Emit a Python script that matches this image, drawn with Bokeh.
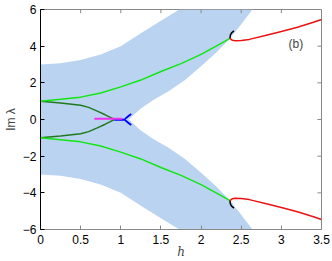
from bokeh.plotting import figure
from bokeh.models import FixedTicker, Range1d, Label
from bokeh.embed import file_html
from bokeh.resources import INLINE

# shaded stability band (closed polygon)
band_h = [0.0, 0.25, 0.5, 0.75, 1.0, 1.25, 1.5, 1.73,
          2.64, 2.5, 2.36, 2.2, 2.0, 1.8, 1.6, 1.4, 1.25, 1.1,
          1.25, 1.4, 1.6, 1.8, 2.0, 2.2, 2.36, 2.5, 2.64,
          1.73, 1.5, 1.25, 1.0, 0.75, 0.5, 0.25, 0.0]
band_y = [3.0, 3.07, 3.25, 3.55, 4.0, 4.7, 5.38, 6.0,
          6.0, 5.2, 4.42, 3.7, 2.9, 2.15, 1.55, 1.05, 0.6, 0.0,
          -0.6, -1.05, -1.55, -2.15, -2.9, -3.7, -4.42, -5.2, -6.0,
          -6.0, -5.38, -4.7, -4.0, -3.55, -3.25, -3.07, -3.0]

green_h = [0.0, 0.25, 0.5, 0.75, 1.0, 1.25, 1.5, 1.75, 2.0, 2.25, 2.36]
green_up = [1.0, 1.1, 1.22, 1.45, 1.78, 2.15, 2.62, 3.05, 3.55, 4.15, 4.42]
green_dn = [-1.0, -1.1, -1.22, -1.45, -1.78, -2.15, -2.62, -3.05, -3.55, -4.15, -4.42]

dkg_h = [0.0, 0.25, 0.5, 0.6, 0.7, 0.8, 0.87, 0.92]
dkg_up = [1.0, 0.9, 0.78, 0.66, 0.47, 0.27, 0.12, 0.0]
dkg_dn = [-1.0, -0.9, -0.78, -0.66, -0.47, -0.27, -0.12, 0.0]

mag_h = [0.67, 1.02]
mag_y = [0.04, 0.04]

blue_seg_h = [0.92, 1.05]
blue_seg_y = [-0.02, -0.02]
blue_h = [1.13, 1.1, 1.07, 1.05, 1.07, 1.1, 1.13]
blue_y = [0.3, 0.2, 0.1, 0.0, -0.1, -0.2, -0.3]

blk_h = [2.36, 2.365, 2.38, 2.41]
blk_up = [4.42, 4.6, 4.73, 4.83]
blk_dn = [-4.42, -4.6, -4.73, -4.83]

red_h = [2.36, 2.39, 2.43, 2.5, 2.6, 2.8, 3.0, 3.2, 3.4, 3.5]
red_up = [4.42, 4.32, 4.29, 4.31, 4.37, 4.58, 4.8, 5.03, 5.3, 5.45]
red_dn = [-4.42, -4.32, -4.29, -4.31, -4.37, -4.58, -4.8, -5.03, -5.3, -5.45]

x_ticks = [0, 0.5, 1, 1.5, 2, 2.5, 3, 3.5]
x_labels = ["0", "0.5", "1", "1.5", "2", "2.5", "3", "3.5"]
y_ticks = [-6, -4, -2, 0, 2, 4, 6]
y_labels = ["\u22126", "\u22124", "\u22122", "0", "2", "4", "6"]

FONT = "Liberation Sans"
X0, X1, Y0, Y1 = 0, 3.5, -6, 6

p = figure(width=332, height=261, output_backend="svg", toolbar_location=None,
           x_range=Range1d(X0, X1), y_range=Range1d(Y0, Y1),
           min_border_left=39, min_border_right=11, min_border_top=9, min_border_bottom=31)
p.grid.visible = False
p.outline_line_color = "#888888"
p.outline_line_width = 1
p.background_fill_color = "white"
p.border_fill_color = "white"

p.patch(band_h, band_y, fill_color="#bad3f1", line_color=None)

p.line(dkg_h, dkg_up, line_color="#1f7a1f", line_width=1.5)
p.line(dkg_h, dkg_dn, line_color="#1f7a1f", line_width=1.5)
p.line(green_h, green_up, line_color="#11e611", line_width=1.5)
p.line(green_h, green_dn, line_color="#11e611", line_width=1.5)
p.line(blue_seg_h, blue_seg_y, line_color="#0000ff", line_width=2)
p.line(mag_h, mag_y, line_color="#ee33ee", line_width=1.8)
p.line(blue_h, blue_y, line_color="#0000ff", line_width=1.8)
p.line(blk_h, blk_up, line_color="black", line_width=1.5)
p.line(blk_h, blk_dn, line_color="black", line_width=1.5)
p.line(red_h, red_up, line_color="#ee1111", line_width=1.5)
p.line(red_h, red_dn, line_color="#ee1111", line_width=1.5)

# mirrored inward ticks on the top and right edges, at the tick positions
tx = [t for t in x_ticks if X0 < t < X1]
ty = [t for t in y_ticks if Y0 < t < Y1]
p.segment(x0=tx, y0=[Y1] * len(tx), x1=tx, y1=[Y1 - 0.2] * len(tx),
          line_color="#888888", line_width=1)
p.segment(x0=[X1] * len(ty), y0=ty, x1=[X1 - 0.05] * len(ty), y1=ty,
          line_color="#888888", line_width=1)

p.add_layout(Label(x=3.18, y=4.1, text="(b)", text_font=FONT, text_font_size="12px",
                   text_align="center", text_baseline="middle"))

def style(ax, ticks, labels, color):
    ax.ticker = FixedTicker(ticks=ticks)
    ax.major_label_overrides = {t: l for t, l in zip(ticks, labels)}
    ax.minor_tick_line_color = None
    ax.major_tick_in = 4
    ax.major_tick_out = 0
    ax.axis_line_color = color
    ax.major_tick_line_color = color
    ax.major_label_text_font = FONT
    ax.major_label_text_font_size = "12px"
    ax.major_label_text_color = "black"

xa = p.xaxis[0]
ya = p.yaxis[0]
style(xa, x_ticks, x_labels, "#888888")
style(ya, y_ticks, y_labels, "black")
xa.major_label_standoff = 5
ya.major_label_standoff = 4
xa.axis_label = "h"
xa.axis_label_text_font = "DejaVu Serif"
xa.axis_label_text_font_style = "italic"
xa.axis_label_text_font_size = "12px"
xa.axis_label_standoff = -2
ya.axis_label = "Im \u03bb"
ya.axis_label_text_font = FONT
ya.axis_label_text_font_style = "normal"
ya.axis_label_text_font_size = "12px"
ya.axis_label_standoff = 2

open("out.html", "w").write(file_html(p, INLINE))
